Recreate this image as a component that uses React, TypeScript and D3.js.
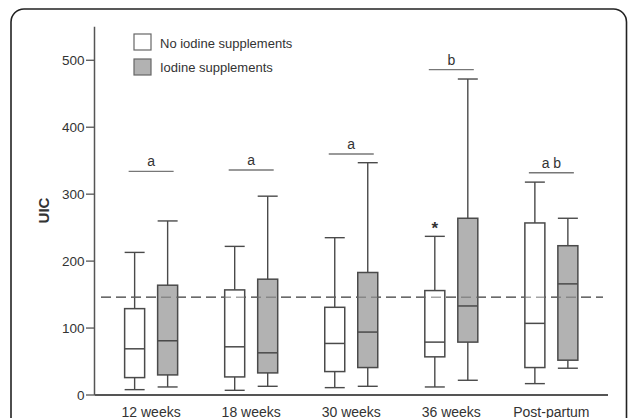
import React from "react";
import * as d3 from "d3";

const categories = ["12 weeks", "18 weeks", "30 weeks", "36 weeks", "Post-partum"];
const seriesNames = ["No iodine supplements", "Iodine supplements"];
// [min, q1, median, q3, max]
const noIodine = [
  [8, 26, 69, 129, 213],
  [7, 27, 72, 157, 222],
  [11, 35, 77, 131, 235],
  [12, 57, 79, 156, 237],
  [17, 41, 107, 257, 318],
];
const iodine = [
  [12, 30, 81, 164, 260],
  [13, 33, 63, 173, 297],
  [13, 41, 94, 183, 347],
  [22, 79, 133, 264, 472],
  [40, 52, 166, 223, 264],
];
const sigLabels = ["a", "a", "a", "b", "a b"];
const sigHeights = [334, 336, 360, 486, 332];
const starCategory = "36 weeks";
const starValue = 237;
const referenceValue = 146;
const yTicks = [0, 100, 200, 300, 400, 500];

const W = 628;
const H = 418;
const FONT = "Arial, 'Liberation Sans', Helvetica, sans-serif";

export default function App() {
  const x0 = 94.5;
  const x1 = 608;
  const yBase = 395;
  const y = d3.scaleLinear().domain([0, 550]).range([yBase, 26.8]);
  const x = d3.scalePoint<string>().domain(categories).range([x0, x1]).padding(0.566);
  const sub = d3.scalePoint<number>().domain([0, 1]).range([-16.5, 16.5]);
  const boxW = 20;
  const fills = ["#ffffff", "#b2b2b2"];
  const stroke = "#4a4a4a";
  const series = [noIodine, iodine];

  return (
    <svg width={W} height={H} style={{ position: "absolute", left: 0, top: 0, background: "#fff" }}
      fontFamily={FONT}>
      <rect x={0} y={0} width={W} height={H} fill="#fff" />
      <rect x={11} y={9} width={615.5} height={440} rx={13} ry={13} fill="none" stroke="#222" strokeWidth={1.6} />

      {/* reference line */}
      <line x1={101} x2={603} y1={y(referenceValue)} y2={y(referenceValue)} stroke="#6a6a6a" strokeWidth={1.3} strokeDasharray="10,5" />

      {/* boxes */}
      {categories.map((c, ci) =>
        series.map((s, si) => {
          const [mn, q1, md, q3, mx] = s[ci];
          const cx = (x(c) as number) + (sub(si) as number);
          return (
            <g key={c + si}>
              <line x1={cx} x2={cx} y1={y(mx)} y2={y(q3)} stroke={stroke} strokeWidth={1.4} />
              <line x1={cx} x2={cx} y1={y(q1)} y2={y(mn)} stroke={stroke} strokeWidth={1.4} />
              <line x1={cx - boxW / 2} x2={cx + boxW / 2} y1={y(mx)} y2={y(mx)} stroke={stroke} strokeWidth={1.4} />
              <line x1={cx - boxW / 2} x2={cx + boxW / 2} y1={y(mn)} y2={y(mn)} stroke={stroke} strokeWidth={1.4} />
              <rect x={cx - boxW / 2} y={y(q3)} width={boxW} height={y(q1) - y(q3)} fill={fills[si]} stroke={stroke} strokeWidth={1.5} />
              <line x1={cx - boxW / 2} x2={cx + boxW / 2} y1={y(md)} y2={y(md)} stroke={stroke} strokeWidth={1.5} />
            </g>
          );
        })
      )}

      {/* reference line over gray boxes */}
      <line x1={101} x2={603} y1={y(referenceValue)} y2={y(referenceValue)} stroke="#6a6a6a" strokeWidth={1.3} strokeDasharray="10,5" opacity={0.6} />

      {/* significance bars */}
      {categories.map((c, ci) => {
        const cx = x(c) as number;
        const yy = y(sigHeights[ci]);
        return (
          <g key={"sig" + c}>
            <line x1={cx - 22.5} x2={cx + 22.5} y1={yy} y2={yy} stroke="#777" strokeWidth={1.4} />
            <text x={cx} y={yy - 5} textAnchor="middle" fontSize={14} fill="#333">{sigLabels[ci]}</text>
          </g>
        );
      })}

      {/* star */}
      <text x={(x(starCategory) as number) + (sub(0) as number)} y={y(starValue) - 2} textAnchor="middle" fontSize={17} fontWeight="bold" fill="#333">*</text>

      {/* axes */}
      <line x1={x0} x2={x0} y1={y(550)} y2={yBase} stroke="#555" strokeWidth={1.5} />
      <line x1={x0} x2={x1} y1={yBase} y2={yBase} stroke="#555" strokeWidth={1.8} />
      {yTicks.map((t) => (
        <g key={"yt" + t}>
          <line x1={x0 - 8.5} x2={x0} y1={y(t)} y2={y(t)} stroke="#555" strokeWidth={1.3} />
          <text x={x0 - 10} y={y(t)} dy="0.35em" textAnchor="end" fontSize={13.5} fill="#333">{t}</text>
        </g>
      ))}
      {categories.map((c) => (
        <text key={"xl" + c} x={x(c) as number} y={416.5} textAnchor="middle" fontSize={14} fill="#333">{c}</text>
      ))}
      <text transform={`translate(48.5,210.5) rotate(-90)`} textAnchor="middle" fontSize={15} fontWeight="bold" fill="#333">UIC</text>

      {/* legend */}
      {seriesNames.map((n, i) => (
        <g key={"lg" + n}>
          <rect x={134} y={34 + i * 25} width={17} height={16} fill={fills[i]} stroke="#666" strokeWidth={1.2} />
          <text x={160} y={47.5 + i * 24.5} fontSize={13} fill="#333">{n}</text>
        </g>
      ))}
    </svg>
  );
}
